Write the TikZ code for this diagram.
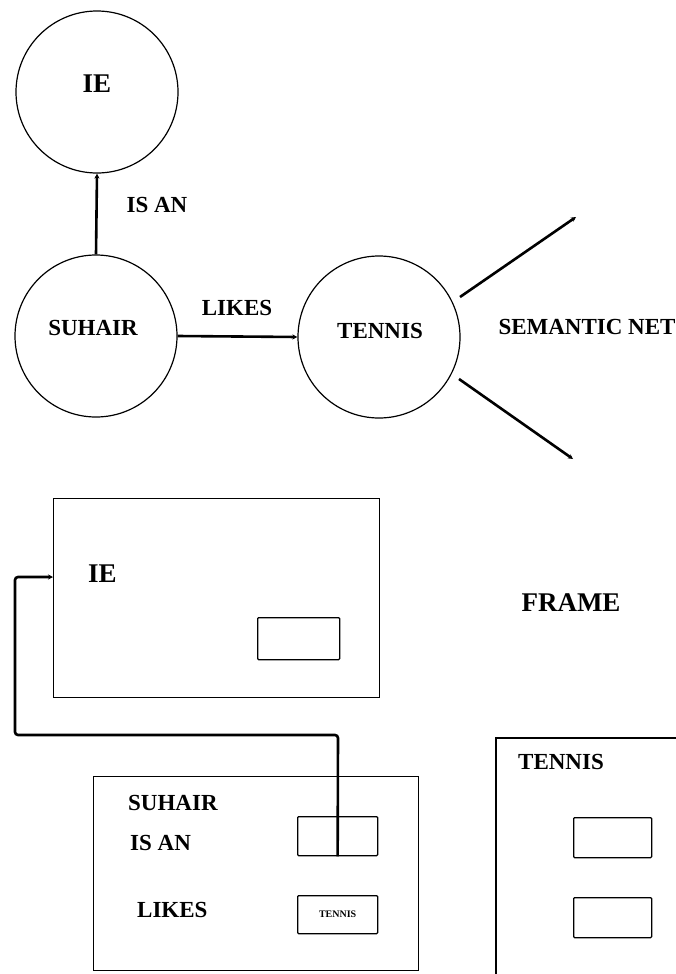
\documentclass[tikz,border=0pt]{standalone}
\usepackage{fontspec}
\setmainfont{Liberation Serif}
\usetikzlibrary{arrows.meta}
\begin{document}
\begin{tikzpicture}[x=1pt,y=-1pt,
  circ/.style={draw,circle,line width=1.2pt,minimum size=162pt,inner sep=0pt},
  lbl/.style={inner sep=0pt,font=\fontsize{23}{27}\selectfont\bfseries},
  ielbl/.style={inner sep=0pt,font=\fontsize{27}{32}\selectfont\bfseries},
  big/.style={inner sep=0pt,font=\fontsize{27}{32}\selectfont\bfseries},
  tiny/.style={inner sep=0pt,font=\fontsize{10}{12}\selectfont\bfseries},
  link/.style={line width=2.6pt},
  tipend/.style={-{Stealth[length=5pt,width=5pt]}},
  framebox/.style={draw,line width=1.3pt,inner sep=0pt,anchor=north west},
  slot/.style={draw,line width=1.3pt,inner sep=0pt,anchor=north west,rounded corners=1pt}
]
\useasboundingbox (0,0) rectangle (676,974);

% ---------- semantic net ----------
\node[circ] (ie) at (97,92) {};
\node[circ] (suhair) at (96,336) {};
\node[circ] (tennis) at (379,337) {};

\node[ielbl] (ietxt) at (97,84) {IE};
\node[lbl] (suhairtxt) at (93,328) {SUHAIR};
\node[lbl] (tennistxt) at (380,331) {TENNIS};
\node[lbl] (isan) at (157,205) {IS AN};
\node[lbl] (likes) at (237,308) {LIKES};
\node[lbl] (sem) at (587,327) {SEMANTIC NET};

\draw[link,tipend] (suhair.north) -- (ie.south);
\draw[link,tipend] (suhair.east) -- (tennis.west);

\coordinate (u0) at (460,297);
\coordinate (u1) at (576,217);
\coordinate (d0) at (459,379);
\coordinate (d1) at (573,459);
\draw[link,tipend] (u0) -- (u1);
\draw[link,tipend] (d0) -- (d1);

% ---------- frames ----------
\node[big] (frame) at (571,603) {FRAME};

\node[framebox,minimum width=326pt,minimum height=199pt] (ieframe) at (53,498) {};
\node[ielbl,anchor=west] (ieft) at (88,574) {IE};
\node[slot,minimum width=82pt,minimum height=42pt] (ieslot) at (257,617) {};

\node[framebox,minimum width=325pt,minimum height=194pt] (suframe) at (93,776) {};
\node[lbl,anchor=west] (sut) at (128,803) {SUHAIR};
\node[lbl,anchor=west] (sui) at (130,843) {IS AN};
\node[lbl,anchor=west] (sul) at (137,910) {LIKES};
\node[slot,minimum width=80pt,minimum height=39pt] (s1) at (297,816) {};
\node[slot,minimum width=80pt,minimum height=38pt] (s2) at (297,895) {};
\node[tiny] (s2t) at (s2.center) {TENNIS};

\coordinate (tf0) at (676,738);
\coordinate (tf1) at (496,738);
\coordinate (tf2) at (496,974);
\draw[line width=1.3pt] (tf0) -- (tf1) -- (tf2);
\node[lbl,anchor=west] (tft) at (518,762) {TENNIS};
\node[slot,minimum width=78pt,minimum height=40pt] (t1) at (573,817) {};
\node[slot,minimum width=78pt,minimum height=40pt] (t2) at (573,897) {};

% connector SUHAIR "is an" slot -> IE frame
\coordinate (c1) at (338,735);
\coordinate (c2) at (15,735);
\coordinate (c3) at (15,577);
\draw[link,rounded corners=3pt,tipend] (s1.south) -- (c1) -- (c2) -- (c3) -- (ieframe.west |- c3);
\end{tikzpicture}
\end{document}
